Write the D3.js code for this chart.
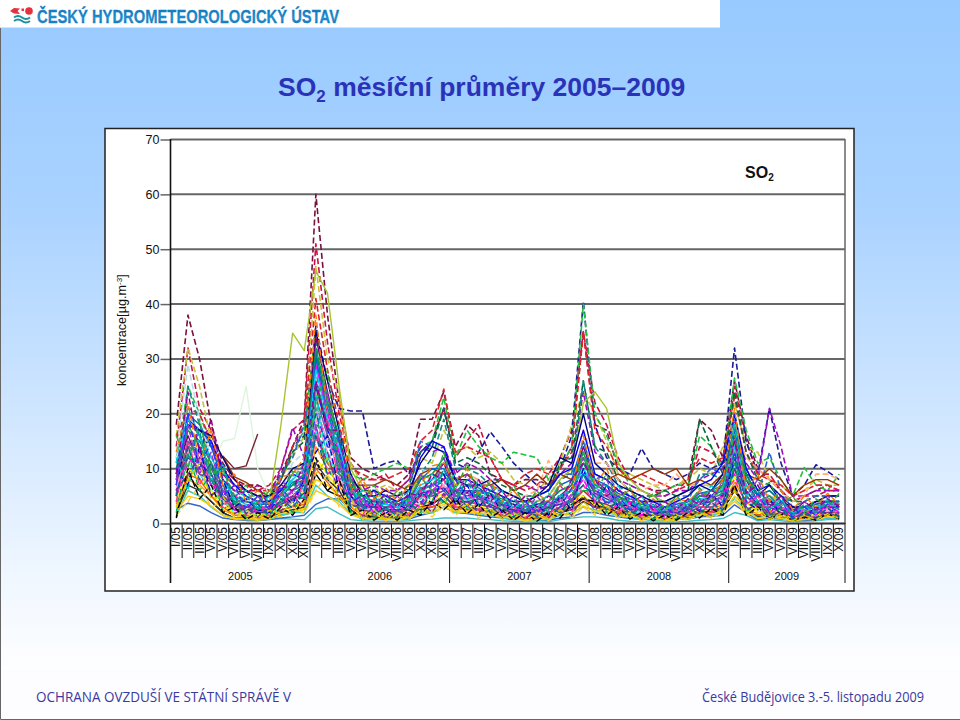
<!DOCTYPE html>
<html lang="cs"><head><meta charset="utf-8">
<style>html,body{margin:0;padding:0;background:#fff}svg{display:block}text{font-family:"Liberation Sans",Arial,sans-serif}</style>
<script src="https://cdn.jsdelivr.net/npm/d3@7/dist/d3.min.js"></script></head>
<body><script>
const romans=["I","II","III","V","V","VI","VII","VIII","IX","X","XI","XII"];
const years=["2005","2006","2007","2008","2009"];
const yTicks=[0,10,20,30,40,50,60,70];
const months=years.flatMap(y=>romans.map(r=>r+"/"+y.slice(2))).slice(0,58);
const n=null;
// dashed stations, upper envelope
const s01=[18,38,30,18,11,8,7,7,6,9,14,19, 60,38,22,12,10,9,8,7,9,19,19,24, 14,18,16,9,8,7,8,8,7,10,14,35, 18,17,10,8,7,6,6,7,8,19,17,12, 26,16,10,8,6,4,5,6,7,6];
const s02=[14,32,21,17,10,8,6,6,7,10,17,19, 51,33,20,11,8,8,9,6,8,13,15,21, 12,15,18,12,8,7,6,7,9,12,17,35, 22,18,12,8,7,6,5,6,7,14,13,11, 25,15,9,9,6,4,5,5,6,6];
const s03=[16,32,25,15,9,7,6,5,6,8,12,16, 47,30,24,11,7,6,7,6,7,12,11,17, 13,14,12,13,11,8,7,6,8,11,18,24, 20,15,9,9,8,7,6,7,8,10,9,14, 22,14,13,8,7,5,6,8,7,7];
const s04=[9,19,16,14,10,7,6,5,5,8,14,16, 36,26,21,20.5,20.5,10,11,11.5,9,13,15,21, 11,10,13,16.7,14,11,9,7,6,10,16,40.5, 18,12,10,9,13.7,10,9,8,9,11,10,11, 32,15,9,21,11,5,7,10.7,9.5,8];
const s05=[11,25,20,14,9,7,6,5,6,8,13,17, 35,22,14,9,8,9,10,11,10,14,15,23, 12,17,14,12,11,13,12.5,12,8,10,14,40, 20,16,11,7,6,5,6,7,7,16,14,10, 26.5,17,11,12,8,5,10.2,7,6,9];
const s06=[16,21,20,15,9,7,7,6,6,8,14,18, 41,28,18,10,9,8,8,9,10,15,17,24.5, 13,14,13,12,8,7,9,10,9,10,13,35, 17,14,10,8,9,8,7,6,8,12,11,12, 23,13,9,8,7,5,6,7,7,6];
const s07=[8,17,15,12,9,7,6,5,5,10,17.5,12, 32,20,14,8,6,7,6,6,8,14,13,14, 9,11,10,8,8,6,7,6,7,9,11,24, 13,11,8,7,6,5,5,6,6,8,9,10, 19,11,8,21,14,5,5,6,6,6];
const s08=[10,18,14,10,7,6,5,4,5,8,13,15, 30,18,13,8,6,6,5,5,7,13,14,21, 11,12,11,9,7,6,5,5,6,11,12,26, 14,13,8,6,5,5,6,5,6,19,14,9, 24,13,8,7,5,4,4,5,5,5];
const s09=[5,25,18,11,6,4,4,3,3,5,10,11, 33,19,12,7,5,4,4,4,5,9,12,19, 10,10,9,7,6,5,4,4,5,8,9,26, 14,11,7,5,4,4,4,4,4,9,9,8, 20,10,6,5,4,3,3,4,4,4];
const s10=[13,29,19,12,8,6,4,4,4,6,11,13, 27,17,12,7,5,5,4,5,6,10,9,12, 7,8,8,6,5,4,4,4,5,7,8,15, 9,8,6,5,4,3,3,4,4,6,7,6, 15,8,6,5,4,3,3,4,4,4];
const s11=[9,16,14,10,7,5,4,4,4,7,10,9, 24,16,10,7,5,5,4,5,6,8,9,11, 8,9,8,7,6,5,5,6,11.5,8,10,17, 11,11,8,6,6,7,7,9,7,7,8,8, 18,12,10,8,6,4,5,9,9,8];
const s22=[7,15,13,9,6,5,6,5,4,9,12,18, 28,16,11,6,5,4,5,4,6,15,14,13, 8,9,7,6,6,5,4,5,6,9,9,13, 8,9,6,5,5,4,4,5,5,8,10,9, 16,10,5,13,6,3,4,5,5,5];
const s23=[12,21,16,11,8,6,5,5,5,6,8,11, 22,14,11,6,4,4,5,3,5,9,7,10, 6,7,6,5,4,4,3,4,4,6,7,12, 7,6,5,4,3,3,3,3,4,5,5,7, 13,7,4,4,3,2,2,3,3,3];
// solid stations
const s12=[12,17,13,10,15,15.5,25,10,5,4,6,8, 20,12,8,4,3,3,3,3,4,7,8,10, 6,6,5,5,4,3,3,3,4,5,6,11, 7,6,4,3,3,2,2,3,3,5,5,5, 11,6,4,4,3,2,2,3,3,3];
const s13=[7,14,12,8,5,4,3,3,4,18,34.7,31.5, 46,42,25,10,6,5,5,4,5,9,8,11, 7,8,7,6,5,4,4,4,5,8,10,22, 24,21,11,8,6,5,4,4,5,7,7,8, 15,8,6,5,4,3,3,4,4,4];
const s14=[n,n,n,n,12.3,10,10.5,16.3,n,n,n,n, n,n,n,n,n,n,n,n,n,n,n,n, n,n,n,n,n,n,n,n,n,n,n,n, n,n,n,n,n,n,n,n,n,n,n,n, n,n,n,n,n,n,n,n,n,n];
const s15=[n,n,n,n,12.3,8.5,7.5,6,5,6,7,8, 17,11,9,7,7,7,8,7,6,9,10,9, 8,9,7,7,8,6,7,9,7,9,8,11, 9,8,9,8,9,10,9,10,7,8,7,9, 15,9,8,10,8,5,7,8,8,7];
const s16=[7,19,17,15,10,7,5,4,4,6,9,8, 25,17,13,7,5,6,5,4,5,12,15,14, 8,8,7,6,5,4,4,5,6,9,10,17, 9,8,6,5,4,4,3,4,5,7,8,11, 20,10,6,7,5,3,3,4,4,4];
const s17=[6,18,17,16,12,8,6,5,5,7,10,11, 35,26,17,9,5,5,6,5,6,11,14,13, 8,7,7,8,6,5,4,5,7,12,11,20, 11,9,7,6,5,4,4,5,6,7,6,9, 17,9,5,7,4,3,3,4,5,5];
const s18=[1,9,6,4,2,1,.8,.7,.8,1.5,2,3, 9,6,5,2.5,.7,1.5,1.2,1,1.5,3,3.5,5, 3,3,2.5,2,1.5,1,1,.8,.5,2,3,5, 3,3,2,1.5,1,.8,.7,.8,1.2,2,2.2,3, 6,3,1.5,2,1,.7,.7,1,1.3,1.5];
const s19=[n,n,n,n,n,n,.5,.5,.8,.9,.8,.7, 2.7,3,1.8,.7,.5,.4,.4,.4,.5,.7,.8,1, 1,1,.8,.7,.5,.4,.3,.3,.3,.7,1,1.2, 1.2,1,.6,.4,.3,.3,.3,.3,.4,.6,.7,.9, 2,1.5,.5,.7,.5,.3,.4,.5,.7,.7];
const s20=[2.5,3.7,3.2,2,1,.7,.6,.6,.7,1,1.2,1.5, 3.5,4.5,4.5,2.5,1,.8,.7,.8,.8,1.5,2,3, 2,1.8,1.5,1.2,1,.7,.7,.6,.6,1,1.2,2, 2,1.5,1.2,.9,.8,.6,.6,.7,.8,1.2,1.3,1.5, 3.4,2,.7,1,.8,.6,.6,.7,1,1];
const s21=[3,6,5,3,1.5,.8,.7,.6,.8,1.4,2,2.5, 8,7,5,2,1,1,.8,.7,1,2,2.5,3.5, 2.5,2.5,2,2.5,1.2,1,.8,.7,.8,1.5,2,4, 3,2.5,1.5,1.2,.8,.7,.6,.7,1,1.5,1.8,2, 5,3,1,1.6,1,.6,.7,1,1.2,1];
const s24=[4,14,13,9,5,3,2.5,2,2.5,4,6,7, 31,22,16,6,3,2.5,2.5,2,3,6,7,9, 5,6,5,4,3,2.5,2,2,2.5,5,6,11, 7,6,4,3,2.5,2,2,2,3,4,5,6, 14,7,4,4.5,3,2,2,2.5,3,3];
const s25=[6,12,10,8,4,2.5,2,2,2,3.5,5,6, 29,20,13,5,3,3,2.5,2.5,3,5,6,8, 4.5,5,5,3.5,3,2,2.5,2,3,4,5,9, 6,5,3.5,3,2.5,2,1.5,2,2.5,4,4,5, 12,6,3,4,2.5,1.5,2,2,3,3];
const s26=[9,16,11,7,5,3,2.5,2.5,2.5,4,5,7, 34,24,15,7,3.5,3,3,3,3.5,6,8,11, 6,5,6,5,3.5,3,2.5,2.5,3,5,7,14, 8,6,5,3.5,3,2.5,2.5,2.5,3,5,5,7, 16,8,4,5,3,2,2.5,3,3.5,3.5];
const s27=[5,11,9,6,4,2,2,1.5,1.5,3,4,5, 17,12,9,4,2,2,2,1.5,2,4,5,6, 4,4,3.5,3,2,1.5,2,1.5,2,3,4,7, 5,4,3,2,2,1.5,1.5,1.5,2,3,3,4, 9,5,2.5,3,2,1.5,1.5,2,2,2];
const s28=[8,18,14,10,6,4,3,3,3,5,7,9, 26,18,12,6,4,4,3.5,3,4,8,9,8, 5,6,6,5,4,3,3,3,4,6,7,12, 7,6,4.5,4,3,3,2.5,3,3.5,5,6,6, 13,7,4,5,3,2,3,3,4,3.5];
const s29=[3,8,7,5,2.5,1.5,1.2,1,1.2,2.5,3,4, 14,10,7,3,1.5,1.5,1.5,1.2,2,3.5,4,5, 3,3.5,3,2.5,2,1.2,1.2,1,1.5,2.5,3.5,6, 4,3,2.5,2,1.5,1,1,1.2,1.5,2.5,2.5,3.5, 7.5,4,2,2.5,1.5,1,1.2,1.5,2,2];
const s30=[7,13,13,8,5,3,3,2.5,3,5,6,5, 21,15,10,5,3,2.5,3,2.5,3,6,6,7, 4,5,4,4,3,2,2,2.5,3,4,5,8, 5,5,3.5,3,2,2,2,2,2.5,3.5,4,5, 10,6,3,3.5,2.5,2,2,2.5,2.5,2.5];
const s31=[4.5,10,8,6,3,2,1.5,1.5,2,3,4.5,6, 12,9,6,4,2,2,1.5,1.5,2.5,4,4.5,5.5, 3.5,3,3,3,2.5,1.5,1.5,1.5,2,3,4,5, 3.5,3.5,2.5,2,1.5,1.5,1,1.5,2,3,3,4, 8.5,4,2,2,1.5,1,1.5,1.5,2,1.5];
const s32=[5.5,15,12,10,6,3.5,3,2.5,3,4,6,8, 23,16,12,5,3,3.5,3,3,3.5,6.5,7,8, 5,4.5,5,4,3.5,2.5,2.5,3,3,4.5,6,10, 6,5,4,3,3,2.5,2,2.5,3,4,4.5,5.5, 11,6,3,4,3,1.5,2.5,3,3,3];
const s33=[2,7,6,4,2,1,1,.8,1,2,2.5,3, 11,8,6,2.5,1.2,1.2,1,1,1.5,2.5,3,4, 2.5,3,2.5,2,1.5,1,.8,.8,1,2,2.5,4, 3,2.5,1.8,1.5,1,.8,.8,.8,1.2,2,2,2.5, 6,3,1.2,1.8,1.2,.8,1,1.2,1.5,1.5];
const s34=[10,17,15,11,7,4,4,3.5,3.5,5,7,9, 32,23,16,7,5,4,4,3.5,4.5,8,9,12, 6,7,6.5,5,4.5,3.5,3,3,4,6,7,13, 7,7,5,4,3.5,3,3,3,4,5,6,7, 18,9,5,6,4,2.5,3,3.5,4,4];
const s35=[3.5,9,8,5,3,1.5,1.5,1,1.5,2.5,3,3.5, 10,7.5,5,3,1.5,1.5,1,1,1.5,3,3,4, 3,2.5,2.5,2,1.5,1,1,1,1.2,2,3,4.5, 3,2.5,2,1.5,1.2,1,.8,1,1.5,2,2,3, 6.5,3,1.5,2,1.2,.8,1,1,1.5,1.2];
const s36=[6.5,13,12,7,4,3,2,2,2.5,3.5,5,6.5, 19,13,9,4.5,2.5,2.5,2,2,3,4.5,5.5,7, 4,4.5,4,3.5,3,2,2,2,2.5,3.5,4.5,7, 4.5,4,3,2.5,2,1.5,1.5,2,2.5,3.5,3.5,4.5, 9.5,5,2.5,3,2,1.5,1.5,2,2.5,2.5];
const s37=[9.5,20,18,14,8,5,4,3.5,3.5,5.5,7.5,8.5, 30,21,15,8,4,4,4,3.5,4,8,10,10, 6,6,6,5.5,4,3,3,3.5,4,7,8,15, 8,7,5.5,4.5,4,3,3,3.5,4,5.5,6,8, 17,8,5,6,4,2.5,3,3.5,4,4];
const s38=[1.5,6,5,3,1.5,1,.7,.7,.8,1.5,2,2, 7,5,4,1.8,.8,.8,.8,.8,1,2,2,3, 2,2,1.8,1.5,1,.7,.7,.6,.7,1.5,2,3, 2.5,2,1.5,1,.8,.6,.6,.7,1,1.5,1.5,2, 4.5,2.5,1,1.5,1,.6,.7,.8,1,1];
const s39=[7.5,14,9,8,5,3,3,2.5,2,4,5,4.5, 16,11,8,3.5,2.5,2,2.5,2,2.5,5,5,6, 3.5,4,3.5,3,2.5,2,2,1.5,2,3,4,6, 4,3.5,2.5,2,1.5,1.5,1.5,1.5,2,3,3,4, 10,5,3,3,2,1.2,1.5,2,2,2];
const s40=[11,19,16,12,8,4.5,3.5,3,3,5,8,10, 28,19,14,6.5,4,3.5,3.5,3,4,7,8,9, 5.5,5.5,5,4.5,4,3,3,2.5,3.5,5,6,10, 6.5,5.5,4,3.5,3,2.5,2.5,3,3.5,4.5,5,6.5, 14,7,4,4.5,3,2,2.5,3,3.5,3];
const s41=[2.2,5,4.5,3.2,1.5,.9,.9,.8,.9,1.8,2.2,2.8, 6,5,3.5,1.6,1,.7,.9,.6,1.2,2.2,2.2,3, 2.2,2,2,1.6,1.2,.9,.6,.7,.9,1.7,1.8,3.2, 2.2,2.2,1.6,1.2,1,.7,.7,.6,1.2,1.6,1.7,2.2, 4,2.2,.9,1.2,.9,.5,.8,.9,1.2,1.2];
const s42=[8.5,12,11,9,4.5,2.5,2.5,2,2,3.5,4.5,5.5, 25,18,11,5,3,3,2.5,2.5,2.5,5.5,6,6.5, 4,4,4.5,3.5,2.5,2.5,2,2,3,3.5,4,9, 5.5,4.5,3.5,2.5,2.5,2,2,2,2.5,3.5,4,5, 12,6,3.5,3.5,2.5,1.8,2,2.5,3,2.8];
// irregular stations, dashed
const s43=[5,11,13,7,6,2.5,3.5,2,3.5,3,6,4.5, 18,9,11,3,4.5,2,4,1.5,4,3,7,5, 6.5,3,5.5,2,4,1.5,3.5,1.8,4,2.5,5.5,8, 4,6,2.5,4,1.5,3,1.2,3,1.8,4.5,2.5,5.5, 9,3.5,5,2,3.5,1.2,2.5,1.5,3.5,2];
const s44=[10,7,14,5,8,3,4.5,2.5,2,5.5,3.5,8, 13,16,6,5,2.5,4.5,1.8,3.5,2.5,6,3.5,9, 3.5,7,3,5.5,2,3.5,1.5,3.5,1.5,5,2.5,10, 3,7,3,3.5,2.5,1.2,3,1.5,3.5,2.2,5.5,3, 12,4,2.5,4.5,1.5,3,1,3,1.5,3.5];
const s45=[2,13,6,9,2.5,4,1,3,1.2,4.5,2,6, 21,8,12,2,3.5,1,3,1,3.5,2,6,3.5, 7,2.5,6,1.5,3.5,1,2.5,.8,3,1.5,4.5,6, 6,2,4.5,1.2,3,.8,2.2,.8,3,1.5,4,2, 11,2,4,1,2.8,.7,2,1,2.8,1.2];
const s46=[8,18,9,13,5,7,3,5,2.5,8,5.5,10, 17,24,8,9,3,6,2.5,5,3,9,5,12, 5,9,4,7,3,5,2,5,2.5,7,4,12, 5,8,3.5,5,2,4,1.5,4,2.5,6,3.5,8, 15,5,8,3,5,1.5,4,2,5,3];
const s47=[12,6,16,8,10,4,6,3,5,4,9,6, 24,11,18,4,6,3,5.5,2.5,6,4.5,9,7, 9,4,8,3,6,2.5,5,2.5,5.5,3.5,8,9, 8,3.5,7,2.5,5,2,4,2,4.5,3,7,4, 18,5,7,2.5,4.5,1.5,3.5,2,4.5,2.5];
const s48=[4,15,7,11,3,5.5,1.5,4,1.5,5.5,3,7.5, 15,19,7,7,1.5,4.5,1.2,3.5,1.5,6,2.8,8, 3,6,2.5,5,1.5,3,1,3,1.2,4.5,2,7, 3.5,5.5,2,3.5,1,2.5,.8,2.5,1.5,3.5,2,5, 8,3.5,5,1.5,3,.9,2.5,1,3,1.5];
const s49=[6,9,12,5,7,1.8,3,1.2,2.8,2.2,5,3, 11,13,5,5.5,1.2,3,.9,2.5,1.2,4,2,5.5, 2.5,4,2,3.5,1,2.5,.8,2.5,1,3,1.5,5, 2.5,4,1.5,2.5,.8,2,.6,2,1,2.5,1.5,3.5, 7,2.5,3.5,1,2.2,.6,1.8,.8,2.2,1];
const s50=[1.5,4,7,3,4,1,2,.6,1.8,1.2,3,1.8, 6,9,3,3.5,.7,2,.5,1.6,.8,2.5,1.2,3.5, 1.5,3,1,2.2,.6,1.6,.4,1.5,.5,2,1,3, 1.5,2.5,1,1.6,.5,1.2,.4,1.2,.6,1.6,1,2, 4.5,1.5,2,.6,1.4,.4,1.2,.5,1.4,.7];
const s51=[13,22,11,17,7,9,4,6,3.5,8.5,9,12, 38,20,23,6,8,4.5,6.5,4,7,7,10.5,11, 7,10,5.5,8,4,6,3.5,5.5,4,7,6,16, 7,10,5,6,3.5,4.5,3,4.5,4,6,4.5,8, 21,6,9,4,6,2.5,5,3,5.5,3.5];
const s52=[16,10,19,9,10,5,7,3.5,6,5,9.5,9, 22,28,10,8,4,7,3.5,6,4,8.5,6,13, 6,11,5,7.5,3.5,7,3,6,3,7.5,5,13, 6,9,4,6.5,3,5.5,2.5,5,3,6.5,4,7, 16,8,6,7.5,3.5,5,2,4.5,3,5.5];
const s53=[1.2,10,4.5,7,2,3,.7,2,.8,3,1.5,4.5, 12,6,8,1.5,2.5,.6,2,.6,2.5,1.5,4,2.5, 4.5,1.8,3.5,1,2.5,.6,2,.4,2,1,3.5,4.5, 4,1.5,3,.8,2,.5,1.5,.6,2,1,2.8,1.5, 7,1.5,3,.8,1.8,.5,1.2,.6,1.8,.8];
const s54=[5,14,8,11,3.5,5,1.8,3.5,1.5,4.5,2.8,6, 16,9,10,3,3.5,1.5,3,1.3,3.5,2.5,6,4, 6,3,5,2,3.5,1.2,3,1.2,3,2,5,7, 5,2.5,4,1.8,2.8,1,2.2,1,2.8,1.8,3.8,2.5, 10,3,4,1.5,3,.9,2,1,2.8,1.2];
const s55=[7,20,10,15,5,7,2.5,5,2.5,6.5,4,8.5, 20,14,13,4,5,2,4.5,2,5,3.5,7.5,6, 8,4.5,7,3,5,2,4,2,4,3,6.5,9, 6.5,3.5,5,2.5,4,1.5,3,1.5,3.5,2.5,5,3.5, 13,4,5.5,2,4,1.2,3,1.5,3.5,1.8];
const s56=[3,8,11,4.5,5,1.3,2.6,1,2.4,1.8,4,2.5, 9,12,4,4.5,1,2.5,.8,2,1,3,1.6,4.5, 2,3.5,1.6,2.8,.9,2,.6,2,.8,2.5,1.3,4, 2,3.2,1.3,2,.7,1.6,.5,1.6,.8,2,1.2,2.8, 6,2,2.8,.8,1.8,.5,1.5,.7,1.8,.9];
const s57=[9,24,13,19,8,6,5.5,7,3,7,6,11, 26,17,17,5,7,3,5.5,3,5.5,5,9,8, 10,5.5,8,4,6,3,5,3,5,4,8,11, 8,5,6.5,3.5,5,2.5,4,2.5,4.5,3.5,6,5, 15,5.5,7,3,5,2,4,2.5,4.5,3];
const s58=[11,12,17,7,11,3.5,5,2.5,4.5,3.5,7.5,4.5, 18,22,9,6.5,2.5,5,2.5,4,2.5,6.5,4,10, 4,8,3.5,6,2.5,4.5,2,4,2,5.5,3,9, 4,7,3,4.5,2,3.5,1.5,3.5,2,4.5,2.5,6, 12,4.5,6,2.5,4,1.5,3.5,2,4,2.5];
const series=[s01,s02,s03,s04,s05,s06,s07,s08,s09,s10,s11,s22,s23,s12,s13,s14,s15,s16,s17,s18,s19,s20,s21,s24,s25,s26,s27,s28,s29,s30,s31,s32,s33,s34,s35,s36,s37,s38,s39,s40,s41,s42,s43,s44,s45,s46,s47,s48,s49,s50,s51,s52,s53,s54,s55,s56,s57,s58];
const palette=["#7b1040","#cc1144","#c4c43a","#1a1a9a","#20c040","#e0202a","#9a10c0","#0b6a3a","#118888","#b8dcee","#ffb070","#3366cc","#33bbaa",
"#ddf5dd","#a8c430","#7a2030","#993300","#0000ff","#000080","#000000","#40c0c0","#3366cc","#ffcc00","#008080","#ff00ff","#800080","#00ffff","#339966","#ff9900","#cc99ff","#ffff00","#666699","#333333","#00a050","#ff6600","#ff99cc","#0066cc","#33cccc","#993366","#00ccff","#ffcc00","#333399",
"#ff00ff","#0000cc","#00b050","#9933cc","#00c8c8","#ff3399","#7030a0","#ffcc33","#ff7700","#33aa33","#000000","#006699","#3333ff","#cccc00","#990099","#009999"];
const isDashed=i=>i<13||i>=42;

const W=960,H=720;
const svg=d3.select("body").append("svg").attr("width",W).attr("height",H);
const defs=svg.append("defs");
const bg=defs.append("linearGradient").attr("id","bg").attr("x1",0).attr("x2",0).attr("y1",0).attr("y2",1);
[[0,"#98caff"],[.3,"#a9d2ff"],[.55,"#c8e2ff"],[.85,"#f0f7ff"],[1,"#ffffff"]].forEach(d=>bg.append("stop").attr("offset",d[0]).attr("stop-color",d[1]));
const hd=defs.append("linearGradient").attr("id","hd").attr("x1",0).attr("x2",0).attr("y1",0).attr("y2",1);
[[0,"#0a6db0"],[.6,"#1f8fd0"],[1,"#0f70b0"]].forEach(d=>hd.append("stop").attr("offset",d[0]).attr("stop-color",d[1]));
svg.append("rect").attr("width",W).attr("height",680).attr("y",0).attr("fill","url(#bg)");
svg.append("rect").attr("y",670).attr("width",W).attr("height",50).attr("fill","#fdfdff");
svg.append("path").attr("d","M0.5,28V719.5H960").attr("fill","none").attr("stroke","#666").attr("stroke-width",1);
svg.append("rect").attr("width",720).attr("height",27.5).attr("fill","#fff");
// header logo
const logo=svg.append("g");
logo.append("circle").attr("cx",29).attr("cy",11).attr("r",3.8).attr("fill","#e8303a");
logo.append("path").attr("d","M10,11L14,8L20,8.5L17.5,11L20,14L14,13.5Z").attr("fill","#e8303a");
logo.append("rect").attr("x",21.5).attr("y",8.5).attr("width",2.5).attr("height",2.5).attr("fill","#e8303a");
[17.5,21].forEach(y=>logo.append("path").attr("d",`M14,${y}q4,-3 8,0t8,0`).attr("fill","none").attr("stroke","#1890a0").attr("stroke-width",2));
svg.append("text").attr("x",37).attr("y",22.5).attr("font-size",19).attr("font-weight","bold").attr("fill","url(#hd)").attr("stroke","#1a7fc0").attr("stroke-width",.3).attr("textLength",302).attr("lengthAdjust","spacingAndGlyphs").text("ČESKÝ HYDROMETEOROLOGICKÝ ÚSTAV");
// title
const t=svg.append("text").attr("x",278).attr("y",96).attr("font-size",26.5).attr("font-weight","bold").attr("fill","#2a33b8");
t.append("tspan").text("SO");
t.append("tspan").attr("font-size",17).attr("dy",6).text("2");
t.append("tspan").attr("dy",-6).text(" měsíční průměry 2005–2009");
// chart box
svg.append("rect").attr("x",105).attr("y",128.5).attr("width",749).attr("height",462.5).attr("fill","#fff").attr("stroke","#222").attr("stroke-width",1.5);
const x=d3.scaleBand().domain(months.map((m,i)=>i)).range([170.5,845]);
const y=d3.scaleLinear().domain([0,70]).range([523.5,139.5]);
// grid
const yAxis=svg.append("g").attr("transform","translate(170.5,0)").call(d3.axisLeft(y).tickValues(yTicks).tickSize(10).tickPadding(1.5));
yAxis.select(".domain").remove();
yAxis.selectAll("line").attr("stroke","#666").attr("stroke-width",1.5);
yAxis.selectAll("text").attr("font-size",12.5).attr("fill","#111").attr("font-family","Liberation Sans").attr("x",-11);
svg.append("g").selectAll("line").data(yTicks).join("line").attr("x1",170.5).attr("x2",845).attr("y1",d=>y(d)).attr("y2",d=>y(d)).attr("stroke","#666").attr("stroke-width",2);
svg.append("line").attr("x1",845).attr("x2",845).attr("y1",139).attr("y2",524).attr("stroke","#666").attr("stroke-width",1.5);
// lines
const line=d3.line().defined(d=>d!==null).x((d,i)=>x(i)+x.bandwidth()/2).y(d=>y(d));
const order=series.map((s,i)=>i);
svg.append("g").attr("fill","none").selectAll("path").data(order).join("path")
 .attr("d",i=>line(series[i])).attr("stroke",i=>palette[i]).attr("stroke-width",i=>i<13?1.6:1.4)
 .attr("stroke-dasharray",i=>isDashed(i)?"6,3":null).attr("stroke-linejoin","round");
// axes
svg.append("line").attr("x1",170.5).attr("x2",170.5).attr("y1",139).attr("y2",583).attr("stroke","#111").attr("stroke-width",1.6);
svg.append("g").selectAll("line").data(d3.range(1,59)).join("line")
 .attr("x1",d=>d<58?x(d):845).attr("x2",d=>d<58?x(d):845)
 .attr("y1",523).attr("y2",d=>(d%12===0||d===58)?583:558).attr("stroke","#111").attr("stroke-width",1);
svg.append("line").attr("x1",170.5).attr("x2",845).attr("y1",523.5).attr("y2",523.5).attr("stroke","#333").attr("stroke-width",1.5);
svg.append("g").selectAll("text").data(months).join("text")
 .attr("transform",(d,i)=>`translate(${x(i)+x.bandwidth()/2+4},527) rotate(-90)`)
 .attr("text-anchor","end").attr("font-size",12).attr("fill","#111").text(d=>d);
svg.append("g").selectAll("text").data(years).join("text")
 .attr("x",(d,i)=>{const a=x(i*12),b=i<4?x(i*12+12):845;return (a+b)/2;}).attr("y",579.5)
 .attr("text-anchor","middle").attr("font-size",11).attr("fill","#111").text(d=>d);
// y title
const yt=svg.append("text").attr("transform","translate(126,386) rotate(-90)").attr("font-size",12.7).attr("fill","#111");
yt.append("tspan").text("koncentrace[µg.m");
yt.append("tspan").attr("font-size",8).attr("dy",-4).text("-3");
yt.append("tspan").attr("dy",4).text("]");
// inner title
const so=svg.append("text").attr("x",745).attr("y",178).attr("font-size",16).attr("font-weight","bold").attr("fill","#111");
so.append("tspan").text("SO");
so.append("tspan").attr("font-size",10).attr("dy",3).text("2");
// footer
svg.append("text").attr("x",36).attr("y",702).attr("style","font-family:'Open Sans'").attr("font-size",14).attr("fill","#3a3a9e").attr("textLength",255).attr("lengthAdjust","spacingAndGlyphs").text("OCHRANA OVZDUŠÍ VE STÁTNÍ SPRÁVĚ V");
svg.append("text").attr("x",702).attr("y",702).attr("style","font-family:'Open Sans'").attr("font-size",14).attr("fill","#3a3a9e").attr("textLength",222).attr("lengthAdjust","spacingAndGlyphs").text("České Budějovice 3.-5. listopadu 2009");
</script></body></html>
